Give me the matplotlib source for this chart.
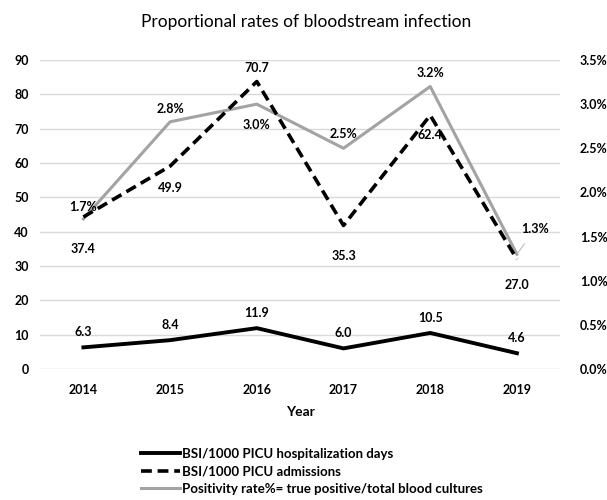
import numpy as np
import matplotlib.pyplot as plt

# Chart data
years = ['2014', '2015', '2016', '2017', '2018', '2019']
bsi_days = [6.3, 8.4, 11.9, 6.0, 10.5, 4.6]
bsi_adm = [37.4, 49.9, 70.7, 35.3, 62.4, 27.0]
positivity = [1.7, 2.8, 3.0, 2.5, 3.2, 1.3]

plt.rcParams['font.family'] = ['Lato', 'DejaVu Sans']

fig = plt.figure(figsize=(6.07, 5), dpi=100)
ax = fig.add_axes([0.066, 0.262, 0.857, 0.618])
x = np.arange(len(years))

# Left axis
ax.set_xlim(-0.5, len(years) - 0.5)
ax.set_ylim(0, 90)
ax.set_yticks(range(0, 91, 10))
ax.grid(axis='y', color='#d9d9d9', lw=1)
ax.set_axisbelow(True)
for s in ax.spines.values():
    s.set_visible(False)
ax.tick_params(axis='y', length=0, labelsize=9, pad=8)
ax.tick_params(axis='x', length=0, labelsize=9, pad=11)
ax.set_xticks(x)
ax.set_xticklabels(years, fontweight='bold')
for t in ax.get_yticklabels():
    t.set_fontweight('bold')
ax.set_xlabel('Year', fontsize=10, fontweight='bold', labelpad=7)

# Secondary axis for positivity rate
ax2 = ax.twinx()
ax2.set_ylim(0, 3.5)
ax2.set_yticks(np.arange(0, 3.51, 0.5))
ax2.set_yticklabels(['%.1f%%' % v for v in np.arange(0, 3.51, 0.5)], fontweight='bold')
ax2.tick_params(length=0, labelsize=9, pad=14)
for s in ax2.spines.values():
    s.set_visible(False)

# Hidden axis used by the admissions series
ax3 = ax.twinx()
ax3.set_ylim(0, 76)
ax3.axis('off')

l1, = ax.plot(x, bsi_days, color='black', lw=2.8)
l2, = ax3.plot(x, bsi_adm, color='black', lw=2.6, ls=(0, (3, 1.6)))
l3, = ax2.plot(x, positivity, color='#a3a3a3', lw=2.2)

lab = dict(fontsize=9, fontweight='bold', ha='center', va='center', textcoords='offset pixels')
for i, v in enumerate(bsi_days):
    ax.annotate('%.1f' % v, (i, v), xytext=(0, 15), **lab)

adm_off = [(0, -32), (0, -22), (0, 14), (0, -31), (0, -20), (0, -26)]
for i, v in enumerate(bsi_adm):
    ax3.annotate('%.1f' % v, (i, v), xytext=adm_off[i], **lab)

pos_off = [(0, 12), (0, 13), (0, -21), (0, 14), (0, 13), (18, 25)]
lead = dict(arrowstyle='-', color='#bfbfbf', lw=0.8, shrinkA=5, shrinkB=1)
for i, v in enumerate(positivity):
    if i == 5:
        ax2.annotate('%.1f%%' % v, (i, v), xytext=pos_off[i], arrowprops=lead, **lab)
    else:
        ax2.annotate('%.1f%%' % v, (i, v), xytext=pos_off[i], **lab)

fig.text(0.505, 0.955, 'Proportional rates of bloodstream infection', ha='center', va='center', fontsize=12.5)

fig.legend([l1, l2, l3],
           ['BSI/1000 PICU hospitalization days', 'BSI/1000 PICU admissions',
            'Positivity rate%= true positive/total blood cultures'],
           loc='upper left', bbox_to_anchor=(0.232, 0.104), frameon=False,
           prop={'size': 9.5, 'weight': 'bold'}, handlelength=3.0, handletextpad=0.1,
           labelspacing=0.4, borderaxespad=0, borderpad=0)

fig.savefig('out.png', dpi=100)
